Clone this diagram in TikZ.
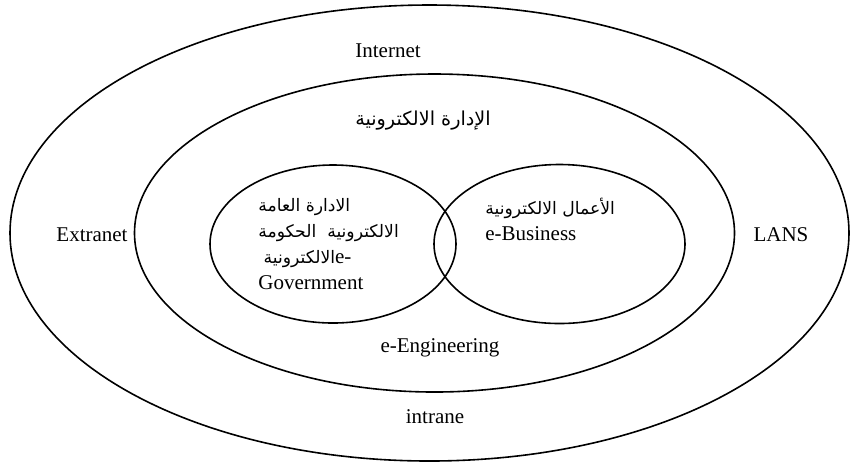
\documentclass[tikz,border=0pt]{standalone}
\usepackage{fontspec}
\setmainfont{Liberation Serif}
\newfontfamily\arabicfont[Script=Arabic]{DejaVu Sans}
\TeXXeTstate=1
\usepackage{tikz}

\newcommand\artxt[1]{{\arabicfont\fontsize{8.6}{13}\selectfont\beginR #1\endR}}

\tikzset{
    ring/.style={line width=0.8pt},
    lbl/.style={inner sep=0pt, font=\fontsize{10.5}{13}\selectfont},
    arlbl/.style={inner sep=0pt, font=\arabicfont\fontsize{9.6}{13}\selectfont}
}

\begin{document}
\begin{tikzpicture}[x=0.5pt,y=-0.5pt]

            \useasboundingbox (0,0) rectangle (851,463);

            % the nested ellipses
            \draw[ring] (429.5,233) ellipse [x radius=209.75pt, y radius=114pt];
            \draw[ring] (434.5,233) ellipse [x radius=150pt, y radius=79.5pt];
            \draw[ring] (333,244) ellipse [x radius=61.5pt, y radius=39.5pt];
            \draw[ring] (559.5,244) ellipse [x radius=62.75pt, y radius=39.75pt];

            \node[lbl] (inet) at (388,51) {Internet};
            \node[arlbl] (eadmin) at (423,121) {\beginR الإدارة الالكترونية\endR};
            \node[lbl] (extra) at (92,235) {Extranet};
            \node[lbl] (lans) at (781,235) {LANS};
            \node[lbl] (eeng) at (440,348) {e-Engineering};
            \node[lbl] (intra) at (435,417) {intrane};

            \node[lbl, anchor=north west, align=left] (egov) at (258,198)
                {\artxt{الادارة العامة}\\
                 \artxt{الالكترونية\ \ الحكومة}\\
                 \ \artxt{الالكترونية}e-\\
                 Government};
            \node[lbl, anchor=north west, align=left] (ebus) at (485,198)
                {\artxt{الأعمال الالكترونية}\\
                 e-Business};
\end{tikzpicture}
\end{document}
